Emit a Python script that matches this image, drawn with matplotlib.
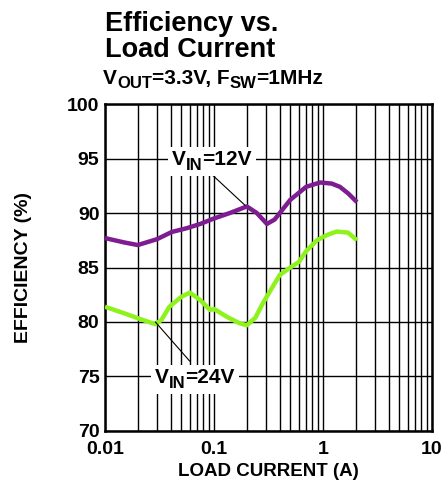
import numpy as np
import matplotlib.pyplot as plt
from matplotlib.ticker import FixedLocator, LogLocator, NullFormatter
from matplotlib.transforms import IdentityTransform
from matplotlib.patches import Rectangle

plt.rcParams['font.family'] = ['Liberation Sans', 'DejaVu Sans']
plt.rcParams['font.weight'] = 'bold'

# efficiency curves, VOUT = 3.3V, FSW = 1MHz
i_12v = [0.01, 0.015, 0.02, 0.03, 0.041, 0.056, 0.075, 0.1, 0.14, 0.2, 0.247, 0.306, 0.36, 0.5, 0.7, 0.94, 1.2, 1.43, 1.7, 2.05]
eff_12v = [87.7, 87.3, 87.06, 87.6, 88.26, 88.6, 89.0, 89.5, 90.0, 90.6, 90.0, 89.0, 89.4, 91.2, 92.4, 92.8, 92.7, 92.4, 91.8, 91.0]

i_24v = [0.01, 0.015, 0.022, 0.029, 0.033, 0.039, 0.05, 0.06, 0.075, 0.092, 0.1, 0.13, 0.17, 0.2, 0.24, 0.28, 0.33, 0.4, 0.5, 0.6, 0.7, 0.88, 1.1, 1.34, 1.7, 2.05]
eff_24v = [81.4, 80.8, 80.2, 79.8, 80.2, 81.4, 82.3, 82.7, 82.0, 81.1, 81.2, 80.5, 79.9, 79.7, 80.4, 81.7, 82.9, 84.3, 85.0, 85.5, 86.5, 87.5, 88.0, 88.3, 88.2, 87.5]

purple = '#7E1D92'
green = '#8EF21C'

fig = plt.figure(figsize=(4.46, 4.92), dpi=100)
ax = fig.add_axes([0.2354, 0.124, 0.7332, 0.6646])
renderer = fig.canvas.get_renderer()


def rich_text(x, y, parts, size, trans, ha='left', box=False):
    """Text with real-size subscripts: parts is a list of (string, is_sub)."""
    x0, y0 = trans.transform((x, y))
    drop = size * fig.dpi / 72 * 0.22
    texts = []
    for s, sub in parts:
        t = fig.text(0, 0, s, transform=IdentityTransform(), fontsize=size * (0.8 if sub else 1.0),
                     fontweight='bold', ha='left', va='baseline', zorder=5)
        texts.append((t, sub))
    widths = [t.get_window_extent(renderer).width for t, _ in texts]
    cx = x0 - (sum(widths) / 2 if ha == 'center' else 0)
    for (t, sub), w in zip(texts, widths):
        t.set_position((cx, y0 - drop if sub else y0))
        cx += w
    if box:
        ext = [t.get_window_extent(renderer) for t, _ in texts]
        x1 = min(e.x0 for e in ext) - 4
        x2 = max(e.x1 for e in ext) + 4
        y1 = min(e.y0 for e in ext) - 3
        y2 = max(e.y1 for e in ext) + 3
        fig.patches.append(Rectangle((x1, y1), x2 - x1, y2 - y1, transform=IdentityTransform(),
                                     facecolor='white', edgecolor='none', zorder=4))
    return texts


ax.plot(i_12v, eff_12v, color=purple, lw=3.2, solid_capstyle='butt', zorder=3)
ax.plot(i_24v, eff_24v, color=green, lw=3.2, solid_capstyle='butt', zorder=3)

ax.set_xscale('log')
ax.set_xlim(0.01, 10)
ax.set_ylim(70, 100)
ax.xaxis.set_major_locator(FixedLocator([0.01, 0.1, 1, 10]))
ax.xaxis.set_minor_locator(LogLocator(base=10, subs=np.arange(2, 10)))
ax.xaxis.set_minor_formatter(NullFormatter())
ax.set_xticklabels(['0.01', '0.1', '1', '10'])
ax.set_yticks([70, 75, 80, 85, 90, 95, 100])

ax.grid(True, which='both', axis='x', color='black', lw=1.0)
ax.grid(True, which='major', axis='y', color='black', lw=1.0)
ax.tick_params(which='both', length=0, labelsize=14)
ax.tick_params(axis='x', pad=7)
ax.tick_params(axis='y', pad=4)
for s in ax.spines.values():
    s.set_linewidth(1.8)

ax.set_xlabel('LOAD CURRENT (A)', fontsize=13.5, fontweight='bold', labelpad=4)
ax.set_ylabel('EFFICIENCY (%)', fontsize=14, fontweight='bold', labelpad=25)

# curve labels with leader lines
lead = dict(arrowstyle='-', color='black', lw=0.8, shrinkA=0, shrinkB=0)
ax.annotate('', xy=(0.193, 90.7), xytext=(0.079, 94.3), arrowprops=lead, zorder=4)
ax.annotate('', xy=(0.029, 80.0), xytext=(0.060, 76.4), arrowprops=lead, zorder=4)
rich_text(0.095, 94.4, [('V', False), ('IN', True), ('=12V', False)], 15, ax.transData,
          ha='center', box=True)
rich_text(0.067, 74.4, [('V', False), ('IN', True), ('=24V', False)], 15, ax.transData,
          ha='center', box=True)

fig.text(0.2354, 0.938, 'Efficiency vs.', fontsize=19.5, fontweight='bold', ha='left', va='baseline')
fig.text(0.2354, 0.884, 'Load Current', fontsize=19.5, fontweight='bold', ha='left', va='baseline')
rich_text(0.231, 0.83, [('V', False), ('OUT', True), ('=3.3V, F', False), ('SW', True), ('=1MHz', False)],
          15, fig.transFigure)

fig.savefig('out.png', dpi=100)
